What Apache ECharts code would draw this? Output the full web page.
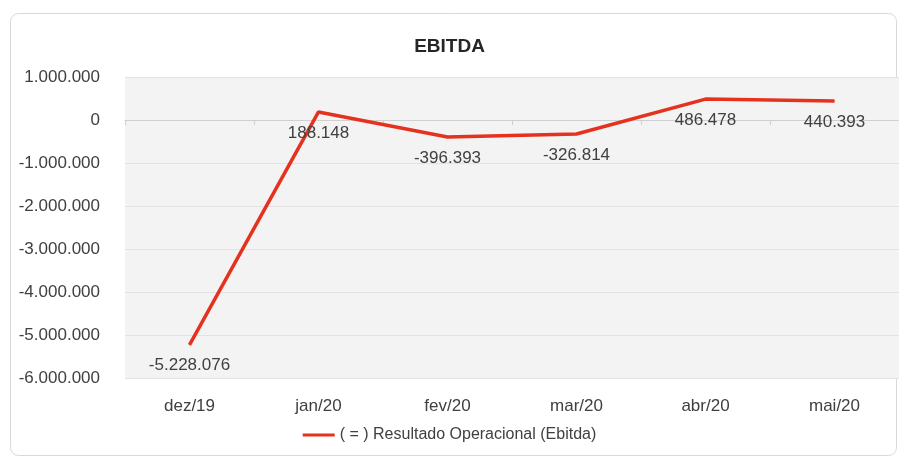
<!DOCTYPE html>
<html>
<head>
<meta charset="utf-8">
<script src="https://cdn.jsdelivr.net/npm/echarts@6/dist/echarts.min.js"></script>
<style>
html,body{margin:0;padding:0;background:#fff;}
#c{width:899px;height:457px;}
</style>
</head>
<body>
<div id="c"></div>
<script>
const categories = ['dez/19','jan/20','fev/20','mar/20','abr/20','mai/20'];
const ebitda = [-5228076, 188148, -396393, -326814, 486478, 440393];
const seriesName = '( = ) Resultado Operacional (Ebitda)';
const titleText = 'EBITDA';

function fmt(v){
  const neg = v < 0;
  const s = Math.abs(Math.round(v)).toString().replace(/\B(?=(\d{3})+(?!\d))/g, '.');
  return (neg ? '-' : '') + s;
}

const chart = echarts.init(document.getElementById('c'), null, {renderer:'canvas'});
const FONT = 'Liberation Sans';
chart.setOption({
  animation:false,
  backgroundColor:'#fff',
  textStyle:{fontFamily:FONT},
  graphic:[{
    type:'rect', z:-10,
    shape:{x:10.5,y:13.5,width:886,height:442,r:8},
    style:{fill:'#fff',stroke:'#d9d9d9',lineWidth:1}
  }],
  title:{
    text:titleText, left:'center', top:32,
    textStyle:{fontFamily:FONT,fontSize:19,fontWeight:'bold',color:'#262626'}
  },
  legend:{
    bottom:9, left:'center',
    icon:'rect', itemWidth:32, itemHeight:3, itemGap:4,
    textStyle:{fontFamily:FONT,fontSize:16,color:'#404040'},
    data:[seriesName]
  },
  grid:{
    left:125, top:77, right:-6, bottom:79,
    show:true, backgroundColor:'#f3f3f3', borderWidth:0
  },
  xAxis:[{
    type:'category', data:categories, boundaryGap:true,
    axisLine:{show:false, onZero:false}, axisTick:{show:false},
    axisLabel:{fontFamily:FONT,fontSize:17,color:'#404040',margin:20}
  },{
    type:'category', data:categories, boundaryGap:true, position:'bottom',
    axisLine:{show:true, onZero:true, lineStyle:{color:'#d0d0d0',width:1}},
    axisTick:{show:true, length:5, lineStyle:{color:'#d0d0d0'}},
    axisLabel:{show:false}
  }],
  yAxis:{
    type:'value', min:-6000000, max:1000000, interval:1000000,
    axisLine:{show:false}, axisTick:{show:false},
    splitLine:{show:true, lineStyle:{color:'#e2e2e2',width:1}},
    axisLabel:{fontFamily:FONT,fontSize:17,color:'#404040',margin:25,formatter:fmt}
  },
  series:[{
    name:seriesName, type:'line', data:ebitda, xAxisIndex:0,
    symbol:'circle', symbolSize:1, showSymbol:true, smooth:false,
    lineStyle:{color:'#e5321f',width:3.5},
    itemStyle:{color:'#e5321f'},
    label:{show:true, position:'bottom', distance:12,
      fontFamily:FONT, fontSize:17, color:'#404040', formatter:p=>fmt(p.value)}
  }]
});
</script>
</body>
</html>
